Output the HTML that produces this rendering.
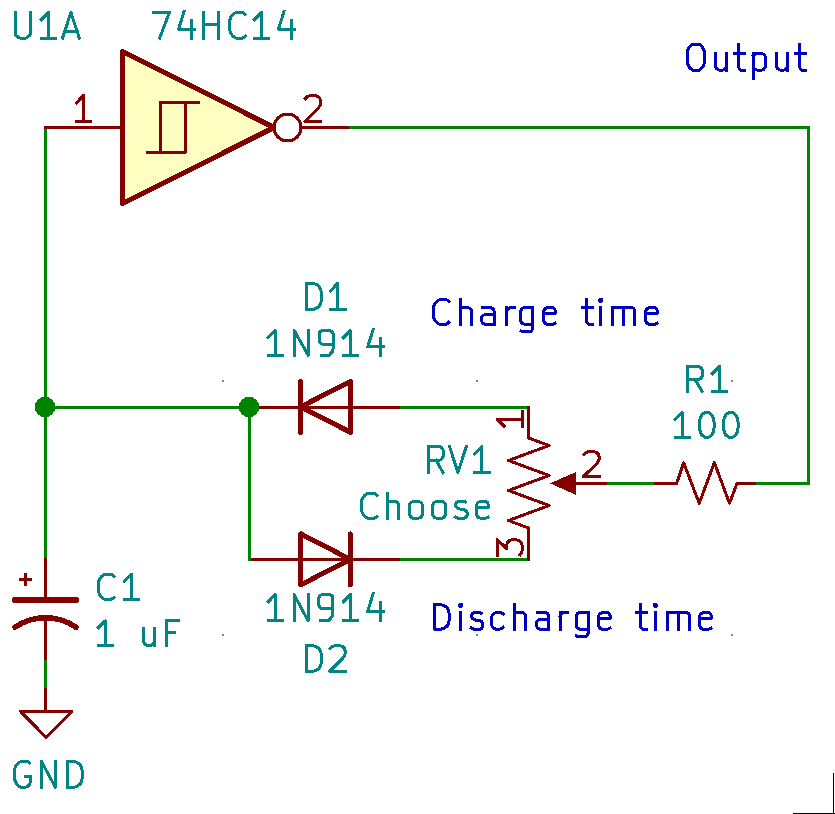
<!DOCTYPE html>
<html><head><meta charset="utf-8"><style>
html,body{margin:0;padding:0;background:#fff;width:835px;height:814px;overflow:hidden}
svg{display:block;font-family:"Liberation Sans",sans-serif}
</style></head><body>
<svg width="835" height="814" viewBox="0 0 835 814" shape-rendering="crispEdges">
<rect width="835" height="814" fill="#fff"/>

<!-- wires -->
<g stroke="#008400" stroke-width="3" fill="none" stroke-linecap="square">
<path d="M45.5,127.5 L45.5,558"/>
<path d="M349,127.5 L808.5,127.5 L808.5,483.5 L756,483.5"/>
<path d="M45.5,407.5 L249.5,407.5"/>
<path d="M400,407.5 L528.5,407.5"/>
<path d="M249.5,407.5 L249.5,559.5 L250.5,559.5"/>
<path d="M400,559.5 L528.5,559.5"/>
<path d="M607,483.5 L654,483.5"/>
<path d="M45.5,660 L45.5,688"/>
</g>
<g stroke="#840000" fill="none" stroke-linecap="butt">
<!-- gate pins -->
<path d="M44,127.5 L122.5,127.5" stroke-width="3"/>
<path d="M301,127.5 L349,127.5" stroke-width="3"/>
<!-- D1 pins -->
<path d="M249.5,407.5 L400,407.5" stroke-width="3"/>
<!-- D2 pins -->
<path d="M250.5,559.5 L400,559.5" stroke-width="3"/>
<!-- RV1 -->
<path d="M528.5,406 L528.5,438 L549,445.5 L508.5,460.5 L549,475.5 L508.5,490.5 L549,505.5 L508.5,520.5 L528.5,528 L528.5,561" stroke-width="3" stroke-linejoin="round"/>
<path d="M576,483.5 L607,483.5" stroke-width="3"/>
<!-- R1 -->
<path d="M654,483.5 L676.6,483.5 L683.6,462.7 L699.2,503.3 L714.4,462.7 L729.5,503.3 L737,483.5 L756,483.5" stroke-width="3" stroke-linejoin="round"/>
<!-- C1 pins -->
<path d="M45.5,558 L45.5,600 M45.5,617.6 L45.5,660" stroke-width="3"/>
<!-- GND -->
<path d="M45.5,688 L45.5,711.5" stroke-width="3"/>
<path d="M20.6,711.5 L71.6,711.5 L46.1,737.3 Z" stroke-width="3" stroke-linejoin="round"/>
</g>
<!-- gate body -->
<path d="M122.5,51.5 L122.5,203.4 L274,127.5 Z" fill="#FFFFC2" stroke="#840000" stroke-width="5" stroke-linejoin="round"/>
<circle cx="287.5" cy="127.5" r="13.45" fill="#fff" stroke="#840000" stroke-width="3"/>
<path d="M145.9,152.2 L185.5,152.2 L185.5,102.3 L199.9,102.3 M160.5,152.2 L160.5,102.3 L185.5,102.3" fill="none" stroke="#840000" stroke-width="3" stroke-linejoin="round"/>
<!-- D1 -->
<g stroke="#840000" stroke-width="5" stroke-linecap="round" stroke-linejoin="round" fill="none">
<path d="M300.5,381.4 L300.5,432.3 M350.5,381.4 L350.5,432.3"/>
<path d="M350.5,381.4 L350.5,432.3 L300.5,406.9 Z"/>
<path d="M300.8,533.9 L300.8,584.8 M350.3,533.9 L350.3,584.8"/>
<path d="M300.8,533.9 L300.8,584.8 L350.3,559.35 Z"/>
</g>
<!-- arrow -->
<path d="M550,483.4 L576,472 L576,494.8 Z" fill="#840000"/>
<!-- capacitor -->
<g stroke="#840000" stroke-linecap="round" fill="none">
<path d="M14.8,600 L76.3,600" stroke-width="5.6"/>
<path d="M15,627.2 A54,54 0 0 1 76,627.2" stroke-width="5.5"/>
<path d="M19,579.6 L32,579.6 M25.5,573 L25.5,586" stroke-width="3" stroke-linecap="butt"/>
</g>
<!-- junctions -->
<circle cx="45" cy="407" r="10.2" fill="#008400"/>
<circle cx="249" cy="407" r="10.2" fill="#008400"/>
<!-- grid dots -->
<g fill="#848484">
<rect x="222" y="380" width="2" height="2"/><rect x="476" y="380" width="2" height="2"/><rect x="731" y="380" width="2" height="2"/>
<rect x="222" y="634" width="2" height="2"/><rect x="476" y="634" width="2" height="2"/><rect x="731" y="634" width="2" height="2"/>
</g>
<!-- border -->
<rect x="833" y="773" width="1.2" height="41" fill="#000"/>
<rect x="793" y="813" width="42" height="1.2" fill="#000"/>

<g fill="none" stroke-width="3" stroke-linecap="square" stroke-linejoin="round">
<path transform="translate(15.30,12.40) scale(1,1.0000)" d="M0,0 L0,21 L0.6,22.8 L3.6,25.4 L5.4,25.8 L9.7,25.8 L11.5,25.4 L14.5,22.8 L15.1,21 L15.1,0" stroke="#008484" vector-effect="non-scaling-stroke"/>
<path transform="translate(41.50,12.40) scale(1,1.0000)" d="M0,7.2 L7,0 L7,25.8 M0,25.8 L14.4,25.8" stroke="#008484" vector-effect="non-scaling-stroke"/>
<path transform="translate(62.50,12.40) scale(1,1.0000)" d="M0,25.8 L8.4,0 L16.8,25.8 M2.1,19.5 L14.7,19.5" stroke="#008484" vector-effect="non-scaling-stroke"/>
<path transform="translate(153.20,12.40) scale(1,1.0000)" d="M0,0 L16.2,0 L6.4,25.8" stroke="#008484" vector-effect="non-scaling-stroke"/>
<path transform="translate(178.60,12.40) scale(1,1.0000)" d="M5.4,-0.9 L0,16.9 L15.8,16.9 M12.6,8.2 L12.6,25.8" stroke="#008484" vector-effect="non-scaling-stroke"/>
<path transform="translate(203.50,12.40) scale(1,1.0000)" d="M0,0 L0,25.8 M14.9,0 L14.9,25.8 M0,12.2 L14.9,12.2" stroke="#008484" vector-effect="non-scaling-stroke"/>
<path transform="translate(229.60,12.40) scale(1,1.0000)" d="M15.6,2.1 L14.2,0.6 L12.4,0 L7.4,0 L5,0.7 L3,2.4 L1.2,4.8 L0,8.4 L0,16.8 L1,20.4 L2.8,23.2 L5.2,25.2 L7.4,25.8 L12.4,25.8 L14.2,25.1 L15.6,23.6" stroke="#008484" vector-effect="non-scaling-stroke"/>
<path transform="translate(254.50,12.40) scale(1,1.0000)" d="M0,7.2 L7,0 L7,25.8 M0,25.8 L14.4,25.8" stroke="#008484" vector-effect="non-scaling-stroke"/>
<path transform="translate(278.50,12.40) scale(1,1.0000)" d="M5.4,-0.9 L0,16.9 L15.8,16.9 M12.6,8.2 L12.6,25.8" stroke="#008484" vector-effect="non-scaling-stroke"/>
<path transform="translate(306.56,283.40) scale(1,1.0116)" d="M0,25.8 L0,0 L6,0 L9.6,0.9 L12.6,3.2 L14.2,6.2 L14.8,9.5 L14.8,16.3 L14.2,19.6 L12.6,22.6 L9.6,24.9 L6,25.8 Z" stroke="#008484" vector-effect="non-scaling-stroke"/>
<path transform="translate(330.60,283.40) scale(1,1.0116)" d="M0,7.2 L7,0 L7,25.8 M0,25.8 L14.4,25.8" stroke="#008484" vector-effect="non-scaling-stroke"/>
<path transform="translate(268.30,330.50) scale(1,0.9729)" d="M0,7.2 L7,0 L7,25.8 M0,25.8 L14.4,25.8" stroke="#008484" vector-effect="non-scaling-stroke"/>
<path transform="translate(294.30,330.50) scale(1,0.9729)" d="M0,25.8 L0,0 L14,25.8 L14,0" stroke="#008484" vector-effect="non-scaling-stroke"/>
<path transform="translate(319.10,330.50) scale(1,0.9729)" d="M14,14 L3,14 L0.6,12.4 L0,10.6 L0,3.4 L0.6,1.6 L3,0 L11,0 L13.4,1.6 L14,3.4 L14,18.6 L13.2,21.8 L9.6,25.8 L2,25.8" stroke="#008484" vector-effect="non-scaling-stroke"/>
<path transform="translate(343.40,330.50) scale(1,0.9729)" d="M0,7.2 L7,0 L7,25.8 M0,25.8 L14.4,25.8" stroke="#008484" vector-effect="non-scaling-stroke"/>
<path transform="translate(367.70,330.50) scale(1,0.9729)" d="M5.4,-0.9 L0,16.9 L15.8,16.9 M12.6,8.2 L12.6,25.8" stroke="#008484" vector-effect="non-scaling-stroke"/>
<path transform="translate(687.50,366.50) scale(1,0.9612)" d="M0,25.8 L0,0 L11,0 L13.4,1.2 L14.6,3.4 L14.6,10 L13.4,12.4 L11,13.7 L0,13.7 M7.6,13.7 L14.6,25.8" stroke="#008484" vector-effect="non-scaling-stroke"/>
<path transform="translate(712.50,366.50) scale(1,0.9612)" d="M0,7.2 L7,0 L7,25.8 M0,25.8 L14.4,25.8" stroke="#008484" vector-effect="non-scaling-stroke"/>
<path transform="translate(675.30,412.40) scale(1,0.9729)" d="M0,7.2 L7,0 L7,25.8 M0,25.8 L14.4,25.8" stroke="#008484" vector-effect="non-scaling-stroke"/>
<path transform="translate(699.50,412.40) scale(1,0.9729)" d="M7.25,0 L9.8,0.6 L12,2.4 L13.8,6 L14.5,10 L14.5,15.8 L13.8,19.8 L12,23.4 L9.8,25.2 L7.25,25.8 L4.7,25.2 L2.5,23.4 L0.7,19.8 L0,15.8 L0,10 L0.7,6 L2.5,2.4 L4.7,0.6 Z" stroke="#008484" vector-effect="non-scaling-stroke"/>
<path transform="translate(723.50,412.40) scale(1,0.9729)" d="M7.25,0 L9.8,0.6 L12,2.4 L13.8,6 L14.5,10 L14.5,15.8 L13.8,19.8 L12,23.4 L9.8,25.2 L7.25,25.8 L4.7,25.2 L2.5,23.4 L0.7,19.8 L0,15.8 L0,10 L0.7,6 L2.5,2.4 L4.7,0.6 Z" stroke="#008484" vector-effect="non-scaling-stroke"/>
<path transform="translate(428.40,446.50) scale(1,1.0078)" d="M0,25.8 L0,0 L11,0 L13.4,1.2 L14.6,3.4 L14.6,10 L13.4,12.4 L11,13.7 L0,13.7 M7.6,13.7 L14.6,25.8" stroke="#008484" vector-effect="non-scaling-stroke"/>
<path transform="translate(449.50,446.50) scale(1,1.0078)" d="M0,0 L8.4,25.8 L16.8,0" stroke="#008484" vector-effect="non-scaling-stroke"/>
<path transform="translate(474.70,446.50) scale(1,1.0078)" d="M0,7.2 L7,0 L7,25.8 M0,25.8 L14.4,25.8" stroke="#008484" vector-effect="non-scaling-stroke"/>
<path transform="translate(361.40,493.40) scale(1,0.9651)" d="M15.6,2.1 L14.2,0.6 L12.4,0 L7.4,0 L5,0.7 L3,2.4 L1.2,4.8 L0,8.4 L0,16.8 L1,20.4 L2.8,23.2 L5.2,25.2 L7.4,25.8 L12.4,25.8 L14.2,25.1 L15.6,23.6" stroke="#008484" vector-effect="non-scaling-stroke"/>
<path transform="translate(387.70,493.40) scale(1,0.9651)" d="M0,0 L0,25.8 M0,8.2 L7.6,8.2 L9.8,9.4 L11,11.6 L11,25.8" stroke="#008484" vector-effect="non-scaling-stroke"/>
<path transform="translate(409.20,493.40) scale(1,0.9651)" d="M4.2,8.2 L9.3,8.2 L11.8,9.4 L13.2,11.6 L13.5,14 L13.5,20 L13.2,22.4 L11.8,24.6 L9.3,25.8 L4.2,25.8 L1.7,24.6 L0.3,22.4 L0,20 L0,14 L0.3,11.6 L1.7,9.4 Z" stroke="#008484" vector-effect="non-scaling-stroke"/>
<path transform="translate(432.40,493.40) scale(1,0.9651)" d="M4.2,8.2 L9.3,8.2 L11.8,9.4 L13.2,11.6 L13.5,14 L13.5,20 L13.2,22.4 L11.8,24.6 L9.3,25.8 L4.2,25.8 L1.7,24.6 L0.3,22.4 L0,20 L0,14 L0.3,11.6 L1.7,9.4 Z" stroke="#008484" vector-effect="non-scaling-stroke"/>
<path transform="translate(455.50,493.40) scale(1,0.9651)" d="M10,9.2 L8.9,8.2 L3.4,8.2 L1,9.4 L0,11.4 L0,12.8 L1.2,14.6 L3.6,16 L8.4,16.8 L10.6,17.9 L11.6,20 L11.6,22.6 L10.6,24.6 L8.6,25.8 L2.4,25.8 L0,24.4" stroke="#008484" vector-effect="non-scaling-stroke"/>
<path transform="translate(476.50,493.40) scale(1,0.9651)" d="M0,14.9 L11.9,14.3 L11.9,12 L10.9,9.4 L9,8.2 L4,8.2 L1.2,9.6 L0,12 L0,21.5 L1.2,24.6 L4,25.8 L9,25.8 L11.4,24.6" stroke="#008484" vector-effect="non-scaling-stroke"/>
<path transform="translate(98.30,574.40) scale(1,0.9690)" d="M15.6,2.1 L14.2,0.6 L12.4,0 L7.4,0 L5,0.7 L3,2.4 L1.2,4.8 L0,8.4 L0,16.8 L1,20.4 L2.8,23.2 L5.2,25.2 L7.4,25.8 L12.4,25.8 L14.2,25.1 L15.6,23.6" stroke="#008484" vector-effect="non-scaling-stroke"/>
<path transform="translate(124.50,574.40) scale(1,0.9690)" d="M0,7.2 L7,0 L7,25.8 M0,25.8 L14.4,25.8" stroke="#008484" vector-effect="non-scaling-stroke"/>
<path transform="translate(98.40,620.70) scale(1,0.9612)" d="M0,7.2 L7,0 L7,25.8 M0,25.8 L14.4,25.8" stroke="#008484" vector-effect="non-scaling-stroke"/>
<path transform="translate(143.60,620.70) scale(1,0.9612)" d="M0,8.2 L0,20.6 L0.6,23.6 L2.4,25.2 L4.4,25.8 L6.4,25.8 L8.6,25.2 L10.4,23.2 M10.9,8.2 L10.9,25.8" stroke="#008484" vector-effect="non-scaling-stroke"/>
<path transform="translate(166.40,620.70) scale(1,0.9612)" d="M11.8,0 L0,0 L0,25.8 M0,12.4 L8,12.4" stroke="#008484" vector-effect="non-scaling-stroke"/>
<path transform="translate(268.30,594.40) scale(1,1.0194)" d="M0,7.2 L7,0 L7,25.8 M0,25.8 L14.4,25.8" stroke="#008484" vector-effect="non-scaling-stroke"/>
<path transform="translate(294.00,594.40) scale(1,1.0194)" d="M0,25.8 L0,0 L14,25.8 L14,0" stroke="#008484" vector-effect="non-scaling-stroke"/>
<path transform="translate(318.90,594.40) scale(1,1.0194)" d="M14,14 L3,14 L0.6,12.4 L0,10.6 L0,3.4 L0.6,1.6 L3,0 L11,0 L13.4,1.6 L14,3.4 L14,18.6 L13.2,21.8 L9.6,25.8 L2,25.8" stroke="#008484" vector-effect="non-scaling-stroke"/>
<path transform="translate(343.40,594.40) scale(1,1.0194)" d="M0,7.2 L7,0 L7,25.8 M0,25.8 L14.4,25.8" stroke="#008484" vector-effect="non-scaling-stroke"/>
<path transform="translate(367.70,594.40) scale(1,1.0194)" d="M5.4,-0.9 L0,16.9 L15.8,16.9 M12.6,8.2 L12.6,25.8" stroke="#008484" vector-effect="non-scaling-stroke"/>
<path transform="translate(306.56,645.60) scale(1,1.0000)" d="M0,25.8 L0,0 L6,0 L9.6,0.9 L12.6,3.2 L14.2,6.2 L14.8,9.5 L14.8,16.3 L14.2,19.6 L12.6,22.6 L9.6,24.9 L6,25.8 Z" stroke="#008484" vector-effect="non-scaling-stroke"/>
<path transform="translate(329.50,645.60) scale(1,1.0000)" d="M0.6,3 L2.6,1 L5.6,0 L10,0 L13,0.9 L15,3 L15.7,5.6 L15.7,7.8 L15,10.2 L13.4,12.4 L0,25.8 L15.8,25.8" stroke="#008484" vector-effect="non-scaling-stroke"/>
<path transform="translate(14.40,761.40) scale(1,1.0078)" d="M15,1.4 L13.5,0.3 L12,0 L7.5,0 L5,0.7 L3,2.4 L1.2,4.8 L0,8.4 L0,16.8 L1,20.4 L2.8,23.2 L5.2,25.2 L7.5,25.8 L10.5,25.8 L13,25 L15,23.2 L16,20.5 L16,15 L11,15" stroke="#008484" vector-effect="non-scaling-stroke"/>
<path transform="translate(41.40,761.40) scale(1,1.0078)" d="M0,25.8 L0,0 L14,25.8 L14,0" stroke="#008484" vector-effect="non-scaling-stroke"/>
<path transform="translate(67.40,761.40) scale(1,1.0078)" d="M0,25.8 L0,0 L6,0 L9.6,0.9 L12.6,3.2 L14.2,6.2 L14.8,9.5 L14.8,16.3 L14.2,19.6 L12.6,22.6 L9.6,24.9 L6,25.8 Z" stroke="#008484" vector-effect="non-scaling-stroke"/>
<path transform="translate(76.57,95.40) scale(1,1.0097)" d="M0,7.2 L7,0 L7,25.8 M0,25.8 L14.4,25.8" stroke="#840000" vector-effect="non-scaling-stroke"/>
<path transform="translate(304.90,95.50) scale(1,1.0078)" d="M0.6,3 L2.6,1 L5.6,0 L10,0 L13,0.9 L15,3 L15.7,5.6 L15.7,7.8 L15,10.2 L13.4,12.4 L0,25.8 L15.8,25.8" stroke="#840000" vector-effect="non-scaling-stroke"/>
<path transform="translate(583.40,451.50) scale(1,0.9729)" d="M0.6,3 L2.6,1 L5.6,0 L10,0 L13,0.9 L15,3 L15.7,5.6 L15.7,7.8 L15,10.2 L13.4,12.4 L0,25.8 L15.8,25.8" stroke="#840000" vector-effect="non-scaling-stroke"/>
<path transform="translate(497.4,426.3) rotate(-90) scale(1,0.973)" vector-effect="non-scaling-stroke" d="M0,7.2 L7,0 L7,25.8 M0,25.8 L14.4,25.8" stroke="#840000"/>
<path transform="translate(497.4,555.2) rotate(-90) scale(1,0.973)" vector-effect="non-scaling-stroke" d="M0,0 L15.6,0 L6.6,9.4 L9.6,9.4 L12.6,10.4 L14.8,12.6 L15.6,15.6 L15.6,18.6 L14.8,22 L12.6,24.4 L9.6,25.6 L5.6,25.6 L2.6,25 L0.4,23.2" stroke="#840000"/>
<path transform="translate(687.40,44.00) scale(1,1.0194)" d="M5.4,0 L11.6,0 L14.6,2.4 L16.4,5.4 L17,8 L17,17.8 L16.4,20.4 L14.6,23.4 L11.6,25.8 L5.4,25.8 L2.4,23.4 L0.6,20.4 L0,17.8 L0,8 L0.6,5.4 L2.4,2.4 Z" stroke="#0000C2" vector-effect="non-scaling-stroke"/>
<path transform="translate(715.50,44.00) scale(1,1.0194)" d="M0,9.10 L0,20.87 L0.6,23.71 L2.4,25.23 L4.4,25.80 L6.4,25.80 L8.6,25.23 L10.4,23.33 M10.9,9.10 L10.9,25.80" stroke="#0000C2" vector-effect="non-scaling-stroke"/>
<path transform="translate(734.50,44.00) scale(1,1.0194)" d="M4.1,0.00 L4.1,21.81 L4.8,24.47 L6.8,25.80 L10,25.80 M0,9.10 L10,9.10" stroke="#0000C2" vector-effect="non-scaling-stroke"/>
<path transform="translate(753.40,44.00) scale(1,1.0194)" d="M0,9.10 L0,33.60 M0,11.38 L2.2,9.67 L4.8,9.10 L7.8,9.10 L10.4,10.05 L11.6,11.76 L12,14.60 L12,20.30 L11.6,23.14 L10.4,24.85 L7.8,25.80 L4.8,25.80 L2.2,25.23 L0,23.52" stroke="#0000C2" vector-effect="non-scaling-stroke"/>
<path transform="translate(776.50,44.00) scale(1,1.0194)" d="M0,9.10 L0,20.87 L0.6,23.71 L2.4,25.23 L4.4,25.80 L6.4,25.80 L8.6,25.23 L10.4,23.33 M10.9,9.10 L10.9,25.80" stroke="#0000C2" vector-effect="non-scaling-stroke"/>
<path transform="translate(795.50,44.00) scale(1,1.0194)" d="M4.1,0.00 L4.1,21.81 L4.8,24.47 L6.8,25.80 L10,25.80 M0,9.10 L10,9.10" stroke="#0000C2" vector-effect="non-scaling-stroke"/>
<path transform="translate(433.20,299.60) scale(1,0.9612)" d="M15.6,2.1 L14.2,0.6 L12.4,0 L7.4,0 L5,0.7 L3,2.4 L1.2,4.8 L0,8.4 L0,16.8 L1,20.4 L2.8,23.2 L5.2,25.2 L7.4,25.8 L12.4,25.8 L14.2,25.1 L15.6,23.6" stroke="#0000C2" vector-effect="non-scaling-stroke"/>
<path transform="translate(460.50,299.60) scale(1,0.9612)" d="M0,0 L0,25.8 M0,8.2 L7.6,8.2 L9.8,9.4 L11,11.6 L11,25.8" stroke="#0000C2" vector-effect="non-scaling-stroke"/>
<path transform="translate(481.60,299.60) scale(1,0.9612)" d="M1.2,8.4 L2.4,8.2 L9,8.2 L11.2,9.2 L12.4,11.6 L12.4,25.8 M12.4,15.4 L3.6,15.4 L1.2,16.6 L0,18.6 L0,22.6 L1.2,24.6 L3.6,25.8 L12.4,25.8" stroke="#0000C2" vector-effect="non-scaling-stroke"/>
<path transform="translate(506.60,299.60) scale(1,0.9612)" d="M0,8.2 L0,25.8 M0,12.4 L1.4,9.6 L3.4,8.2 L7.5,8.2" stroke="#0000C2" vector-effect="non-scaling-stroke"/>
<path transform="translate(520.50,299.60) scale(1,0.9612)" d="M12,8.2 L12,30.2 L11.2,32.6 L9.6,33.7 L3.4,33.7 L0.6,32.8 M12,25.8 L4.4,25.8 L1.8,24.8 L0.3,22.6 L0,19.6 L0,14.2 L0.4,11.2 L1.8,9 L4.4,8.2 L12,8.2" stroke="#0000C2" vector-effect="non-scaling-stroke"/>
<path transform="translate(543.50,299.60) scale(1,0.9612)" d="M0,14.9 L11.9,14.3 L11.9,12 L10.9,9.4 L9,8.2 L4,8.2 L1.2,9.6 L0,12 L0,21.5 L1.2,24.6 L4,25.8 L9,25.8 L11.4,24.6" stroke="#0000C2" vector-effect="non-scaling-stroke"/>
<path transform="translate(582.40,299.60) scale(1,0.9612)" d="M4.1,0 L4.1,21.6 L4.8,24.4 L6.8,25.8 L10,25.8 M0,8.2 L10,8.2" stroke="#0000C2" vector-effect="non-scaling-stroke"/>
<path transform="translate(600.60,299.60) scale(1,0.9612)" d="M0,8.2 L0,25.8 M0,0.9 L0,0.9" stroke="#0000C2" vector-effect="non-scaling-stroke"/>
<circle cx="600.60" cy="300.47" r="2.6" fill="#0000C2" stroke="none"/>
<path transform="translate(612.60,299.60) scale(1,0.9612)" d="M0,8.2 L0,25.8 M0,8.2 L18.6,8.2 L21,9 L22.1,11 L22.2,13 L22.2,25.8 M10.9,8.2 L10.9,25.8" stroke="#0000C2" vector-effect="non-scaling-stroke"/>
<path transform="translate(645.50,299.60) scale(1,0.9612)" d="M0,14.9 L11.9,14.3 L11.9,12 L10.9,9.4 L9,8.2 L4,8.2 L1.2,9.6 L0,12 L0,21.5 L1.2,24.6 L4,25.8 L9,25.8 L11.4,24.6" stroke="#0000C2" vector-effect="non-scaling-stroke"/>
<path transform="translate(434.40,604.60) scale(1,0.9574)" d="M0,25.8 L0,0 L6,0 L9.6,0.9 L12.6,3.2 L14.2,6.2 L14.8,9.5 L14.8,16.3 L14.2,19.6 L12.6,22.6 L9.6,24.9 L6,25.8 Z" stroke="#0000C2" vector-effect="non-scaling-stroke"/>
<path transform="translate(460.70,604.60) scale(1,0.9574)" d="M0,8.2 L0,25.8 M0,0.9 L0,0.9" stroke="#0000C2" vector-effect="non-scaling-stroke"/>
<circle cx="460.70" cy="605.46" r="2.6" fill="#0000C2" stroke="none"/>
<path transform="translate(471.30,604.60) scale(1,0.9574)" d="M10,9.2 L8.9,8.2 L3.4,8.2 L1,9.4 L0,11.4 L0,12.8 L1.2,14.6 L3.6,16 L8.4,16.8 L10.6,17.9 L11.6,20 L11.6,22.6 L10.6,24.6 L8.6,25.8 L2.4,25.8 L0,24.4" stroke="#0000C2" vector-effect="non-scaling-stroke"/>
<path transform="translate(491.50,604.60) scale(1,0.9574)" d="M11.8,9.8 L9.8,8.4 L7.4,8.2 L4.8,8.2 L2.2,9.2 L0.6,11.4 L0,14 L0,20 L0.6,22.6 L2.2,24.8 L4.8,25.8 L7.4,25.8 L9.8,25.2 L11.8,23.8" stroke="#0000C2" vector-effect="non-scaling-stroke"/>
<path transform="translate(514.50,604.60) scale(1,0.9574)" d="M0,0 L0,25.8 M0,8.2 L7.6,8.2 L9.8,9.4 L11,11.6 L11,25.8" stroke="#0000C2" vector-effect="non-scaling-stroke"/>
<path transform="translate(536.50,604.60) scale(1,0.9574)" d="M1.2,8.4 L2.4,8.2 L9,8.2 L11.2,9.2 L12.4,11.6 L12.4,25.8 M12.4,15.4 L3.6,15.4 L1.2,16.6 L0,18.6 L0,22.6 L1.2,24.6 L3.6,25.8 L12.4,25.8" stroke="#0000C2" vector-effect="non-scaling-stroke"/>
<path transform="translate(560.20,604.60) scale(1,0.9574)" d="M0,8.2 L0,25.8 M0,12.4 L1.4,9.6 L3.4,8.2 L7.5,8.2" stroke="#0000C2" vector-effect="non-scaling-stroke"/>
<path transform="translate(576.00,604.60) scale(1,0.9574)" d="M12,8.2 L12,30.2 L11.2,32.6 L9.6,33.7 L3.4,33.7 L0.6,32.8 M12,25.8 L4.4,25.8 L1.8,24.8 L0.3,22.6 L0,19.6 L0,14.2 L0.4,11.2 L1.8,9 L4.4,8.2 L12,8.2" stroke="#0000C2" vector-effect="non-scaling-stroke"/>
<path transform="translate(598.40,604.60) scale(1,0.9574)" d="M0,14.9 L11.9,14.3 L11.9,12 L10.9,9.4 L9,8.2 L4,8.2 L1.2,9.6 L0,12 L0,21.5 L1.2,24.6 L4,25.8 L9,25.8 L11.4,24.6" stroke="#0000C2" vector-effect="non-scaling-stroke"/>
<path transform="translate(636.30,604.60) scale(1,0.9574)" d="M4.1,0 L4.1,21.6 L4.8,24.4 L6.8,25.8 L10,25.8 M0,8.2 L10,8.2" stroke="#0000C2" vector-effect="non-scaling-stroke"/>
<path transform="translate(655.40,604.60) scale(1,0.9574)" d="M0,8.2 L0,25.8 M0,0.9 L0,0.9" stroke="#0000C2" vector-effect="non-scaling-stroke"/>
<circle cx="655.40" cy="605.46" r="2.6" fill="#0000C2" stroke="none"/>
<path transform="translate(667.20,604.60) scale(1,0.9574)" d="M0,8.2 L0,25.8 M0,8.2 L18.6,8.2 L21,9 L22.1,11 L22.2,13 L22.2,25.8 M10.9,8.2 L10.9,25.8" stroke="#0000C2" vector-effect="non-scaling-stroke"/>
<path transform="translate(699.50,604.60) scale(1,0.9574)" d="M0,14.9 L11.9,14.3 L11.9,12 L10.9,9.4 L9,8.2 L4,8.2 L1.2,9.6 L0,12 L0,21.5 L1.2,24.6 L4,25.8 L9,25.8 L11.4,24.6" stroke="#0000C2" vector-effect="non-scaling-stroke"/>
</g>
</svg>
</body></html>
